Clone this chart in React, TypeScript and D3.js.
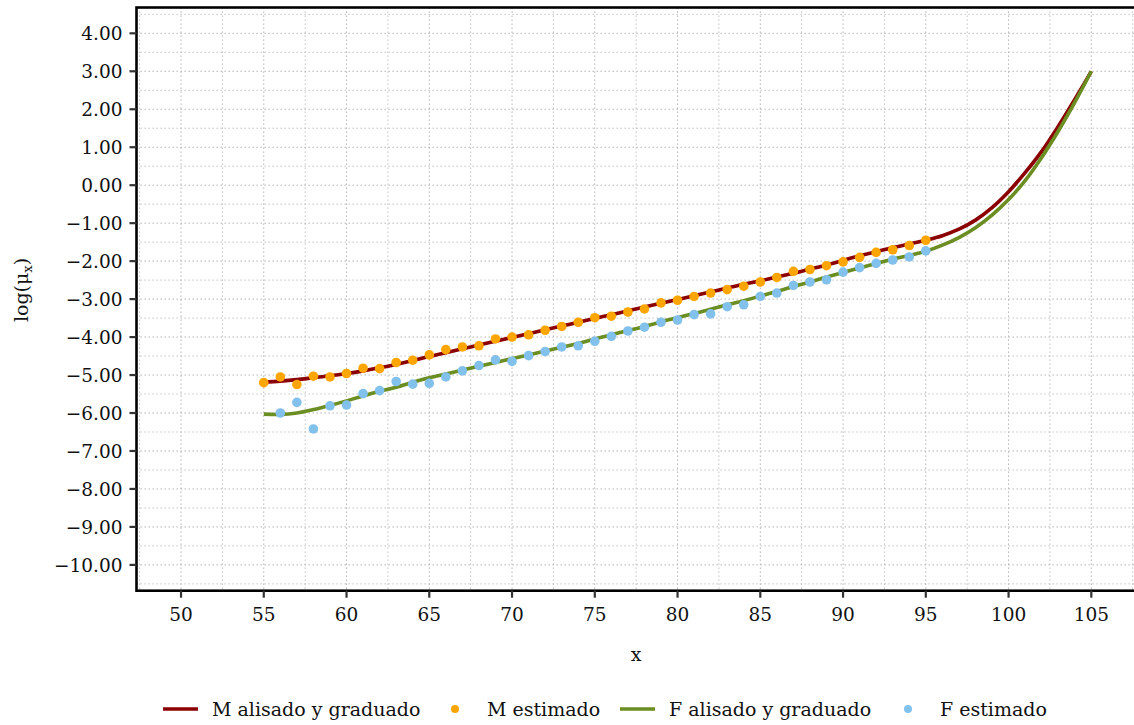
import React from "react";
import * as d3 from "d3";

const ages = d3.range(55, 106);
const mSmooth = [-5.19, -5.16, -5.12, -5.07, -5.02, -4.96, -4.89, -4.81, -4.72, -4.62, -4.51, -4.41, -4.31, -4.21, -4.11, -4.01, -3.91, -3.81, -3.71, -3.61, -3.51, -3.41, -3.31, -3.21, -3.11, -3.01, -2.91, -2.81, -2.71, -2.61, -2.52, -2.42, -2.32, -2.21, -2.1, -1.98, -1.86, -1.75, -1.65, -1.55, -1.45, -1.33, -1.16, -0.92, -0.59, -0.17, 0.33, 0.89, 1.55, 2.26, 3.0];
const fSmooth = [-6.03, -6.04, -6.0, -5.91, -5.8, -5.68, -5.55, -5.43, -5.32, -5.19, -5.07, -4.97, -4.87, -4.77, -4.67, -4.57, -4.47, -4.37, -4.27, -4.17, -4.05, -3.94, -3.83, -3.72, -3.6, -3.49, -3.38, -3.27, -3.15, -3.04, -2.92, -2.8, -2.67, -2.55, -2.42, -2.3, -2.18, -2.06, -1.95, -1.85, -1.74, -1.58, -1.38, -1.12, -0.79, -0.38, 0.12, 0.73, 1.42, 2.18, 3.0];

const mAges = d3.range(55, 96);
const mEst = [-5.2, -5.05, -5.25, -5.03, -5.05, -4.96, -4.82, -4.83, -4.67, -4.61, -4.47, -4.33, -4.26, -4.23, -4.05, -4.0, -3.94, -3.82, -3.72, -3.61, -3.49, -3.45, -3.34, -3.26, -3.1, -3.03, -2.93, -2.84, -2.75, -2.66, -2.55, -2.43, -2.27, -2.22, -2.12, -2.02, -1.9, -1.77, -1.7, -1.59, -1.45];

const fAges = d3.range(56, 96);
const fEst = [-6.0, -5.72, -6.42, -5.81, -5.79, -5.49, -5.41, -5.17, -5.24, -5.22, -5.05, -4.89, -4.75, -4.6, -4.64, -4.49, -4.38, -4.26, -4.23, -4.11, -3.98, -3.84, -3.74, -3.61, -3.55, -3.41, -3.39, -3.2, -3.15, -2.93, -2.84, -2.64, -2.55, -2.49, -2.29, -2.17, -2.06, -1.97, -1.89, -1.73];

const xTicks = [50, 55, 60, 65, 70, 75, 80, 85, 90, 95, 100, 105];
const yTicks = [4, 3, 2, 1, 0, -1, -2, -3, -4, -5, -6, -7, -8, -9, -10];

const legendLabels = ["M alisado y graduado", "M estimado", "F alisado y graduado", "F estimado"];

const W = 1134;
const H = 725;
const left = 136.5;
const right = 1136;
const top = 7.5;
const bottom = 590.7;
const FONT = "'DejaVu Serif', serif";

const colM = "#8B0000";
const colMpt = "#FFA500";
const colF = "#6B8E23";
const colFpt = "#82C1EC";

export default function App() {
  const x = d3.scaleLinear().domain([47.31, 107.7]).range([left, right]);
  const y = d3.scaleLinear().domain([-10.68, 4.68]).range([bottom, top]);

  const majorX = xTicks;
  const minorX = d3.range(47.5, 108, 5);
  const majorY = yTicks;
  const minorY = d3.range(-10.5, 4.6, 1);

  const line = d3
    .line<number>()
    .x((_, i) => x(ages[i]))
    .y((d) => y(d))
    .curve(d3.curveCatmullRom.alpha(0.5));

  const grid = { stroke: "#b8b8b8", strokeWidth: 1, strokeDasharray: "1.3,2.7" };

  const legendItems = [
    { label: legendLabels[0], type: "line", color: colM, sx: 163, tx: 212 },
    { label: legendLabels[1], type: "dot", color: colMpt, sx: 455, tx: 487 },
    { label: legendLabels[2], type: "line", color: colF, sx: 620, tx: 669 },
    { label: legendLabels[3], type: "dot", color: colFpt, sx: 908, tx: 940 },
  ];

  return (
    <svg width={W} height={H} style={{ position: "absolute", left: 0, top: 0 }} fontFamily={FONT}>
      <rect x={0} y={0} width={W} height={H} fill="white" />
      <defs>
        <clipPath id="panel">
          <rect x={left} y={top} width={right - left} height={bottom - top} />
        </clipPath>
      </defs>
      <g>
        {minorX.map((v) => (
          <line key={"mx" + v} x1={x(v)} x2={x(v)} y1={top} y2={bottom} {...grid} />
        ))}
        {majorX.map((v) => (
          <line key={"Mx" + v} x1={x(v)} x2={x(v)} y1={top} y2={bottom} {...grid} stroke="#a8a8a8" />
        ))}
        {minorY.map((v) => (
          <line key={"my" + v} x1={left} x2={right} y1={y(v)} y2={y(v)} {...grid} />
        ))}
        {majorY.map((v) => (
          <line key={"My" + v} x1={left} x2={right} y1={y(v)} y2={y(v)} {...grid} stroke="#a8a8a8" />
        ))}
      </g>
      <g clipPath="url(#panel)">
        <path d={line(mSmooth) || ""} fill="none" stroke={colM} strokeWidth={3.6} />
        {mAges.map((a, i) => (
          <circle key={"m" + a} cx={x(a)} cy={y(mEst[i])} r={4.8} fill={colMpt} />
        ))}
        <path d={line(fSmooth) || ""} fill="none" stroke={colF} strokeWidth={3.6} />
        {fAges.map((a, i) => (
          <circle key={"f" + a} cx={x(a)} cy={y(fEst[i])} r={4.8} fill={colFpt} />
        ))}
      </g>
      <rect x={left} y={top} width={right - left} height={bottom - top} fill="none" stroke="black" strokeWidth={2.6} />
      {yTicks.map((v) => (
        <g key={"yt" + v}>
          <line x1={left - 7} x2={left} y1={y(v)} y2={y(v)} stroke="#333" strokeWidth={2.2} />
          <text x={122.5} y={y(v)} dy="0.36em" textAnchor="end" fontSize={18.5} fill="#111">
            {v < 0 ? "\u2212" + Math.abs(v).toFixed(2) : v.toFixed(2)}
          </text>
        </g>
      ))}
      {xTicks.map((v) => (
        <g key={"xt" + v}>
          <line x1={x(v)} x2={x(v)} y1={bottom} y2={bottom + 7} stroke="#333" strokeWidth={2.2} />
          <text x={x(v)} y={621} textAnchor="middle" fontSize={18.5} fill="#111">
            {v}
          </text>
        </g>
      ))}
      <text x={636} y={661} textAnchor="middle" fontSize={19} fill="#111">
        x
      </text>
      <text transform="translate(28,290) rotate(-90)" textAnchor="middle" fontSize={19} fill="#111">
        log(μ<tspan fontSize={13} dy={4}>x</tspan>
        <tspan dy={-4}>)</tspan>
      </text>
      {legendItems.map((it) => (
        <g key={it.label}>
          {it.type === "line" ? (
            <line x1={it.sx} x2={it.sx + 35} y1={709} y2={709} stroke={it.color} strokeWidth={3.6} />
          ) : (
            <circle cx={it.sx} cy={709} r={4} fill={it.color} />
          )}
          <text x={it.tx} y={709} dy="0.36em" fontSize={19} fill="#111">
            {it.label}
          </text>
        </g>
      ))}
    </svg>
  );
}
